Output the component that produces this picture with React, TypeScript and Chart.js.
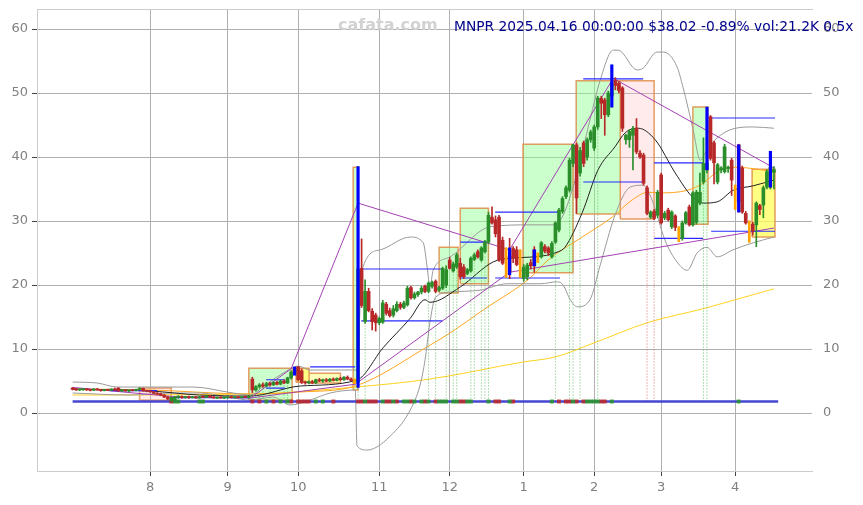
import React, { useEffect, useRef } from 'react';
import { Chart, registerables } from 'chart.js';

Chart.register(...registerables);

// ---- daily candles [open, high, low, close], one array per month ----
const julBars = [
  [3.9, 4.0, 3.6, 3.7], [3.7, 3.85, 3.55, 3.6], [3.6, 3.75, 3.5, 3.65], [3.65, 3.8, 3.55, 3.75],
  [3.75, 3.85, 3.55, 3.6], [3.6, 3.7, 3.45, 3.55], [3.55, 3.8, 3.5, 3.75], [3.75, 3.85, 3.55, 3.6],
  [3.6, 3.7, 3.4, 3.5], [3.5, 3.7, 3.45, 3.65], [3.65, 3.75, 3.5, 3.55], [3.55, 3.8, 3.5, 3.75],
  [3.75, 3.9, 3.55, 3.6], [3.9, 3.95, 3.4, 3.45], [3.45, 3.6, 3.35, 3.5], [3.5, 3.65, 3.4, 3.45],
  [3.45, 3.6, 3.35, 3.55], [3.55, 3.7, 3.45, 3.5], [3.5, 3.75, 3.45, 3.7], [3.7, 3.95, 3.6, 3.85],
  [3.85, 3.9, 3.4, 3.45], [3.45, 3.55, 3.3, 3.4],
];
const augBars = [
  [3.4, 3.5, 3.2, 3.3], [3.3, 3.4, 3.0, 3.1], [3.1, 3.2, 2.9, 2.95], [3.0, 3.1, 2.7, 2.8],
  [2.8, 2.9, 2.4, 2.5], [2.5, 2.6, 2.1, 2.2], [2.0, 2.5, 1.8, 2.4], [2.1, 2.6, 1.9, 2.5],
  [2.5, 2.7, 2.3, 2.6], [2.6, 2.7, 2.3, 2.4], [2.4, 2.6, 2.3, 2.55], [2.55, 2.65, 2.3, 2.4],
  [2.4, 2.6, 2.35, 2.5], [2.5, 2.6, 2.3, 2.35], [2.35, 2.6, 2.3, 2.55], [2.55, 2.7, 2.4, 2.45],
  [2.45, 2.7, 2.4, 2.65], [2.65, 2.75, 2.4, 2.45], [2.45, 2.6, 2.3, 2.35], [2.35, 2.5, 2.25, 2.45],
  [2.45, 2.55, 2.3, 2.35], [2.35, 2.5, 2.25, 2.4],
];
const sepBars = [
  [2.4, 2.55, 2.3, 2.5], [2.5, 2.6, 2.35, 2.4], [2.4, 2.55, 2.3, 2.45], [2.45, 2.6, 2.35, 2.4],
  [2.4, 2.55, 2.3, 2.5], [2.5, 2.65, 2.4, 2.45], [2.45, 2.7, 2.35, 2.6], [5.3, 5.6, 3.2, 3.6],
  [3.6, 4.3, 3.4, 4.1], [4.1, 4.6, 3.9, 4.4], [4.4, 4.7, 4.0, 4.2], [4.2, 4.8, 4.1, 4.6],
  [4.6, 4.8, 4.2, 4.4], [4.4, 4.9, 4.3, 4.8], [4.8, 5.0, 4.4, 4.5], [4.5, 5.1, 4.4, 5.0],
  [5.0, 5.2, 4.6, 4.7], [4.7, 5.6, 4.6, 5.5], [5.5, 6.6, 5.3, 6.4], [6.4, 7.1, 6.2, 6.9],
];
const octBars = [
  [7.2, 7.3, 5.0, 5.2], [6.6, 6.9, 4.6, 4.8], [4.8, 5.0, 4.5, 4.7], [4.7, 5.0, 4.55, 4.9],
  [4.9, 5.1, 4.6, 4.7], [4.7, 5.3, 4.6, 5.2], [5.2, 5.4, 4.9, 5.0], [5.0, 5.3, 4.8, 5.2],
  [5.2, 5.4, 4.9, 5.0], [5.0, 5.4, 4.9, 5.3], [5.3, 5.5, 5.0, 5.1], [5.1, 5.5, 5.0, 5.4],
  [5.4, 5.6, 5.1, 5.2], [5.2, 5.7, 5.1, 5.6], [5.6, 5.8, 5.2, 5.3], [5.3, 5.5, 5.0, 5.1],
  [5.1, 5.3, 4.6, 4.8], [4.8, 38.5, 4.6, 22.5], [22.6, 27.2, 16.5, 16.8], [14.3, 20.8, 14.0, 19.0],
  [19.0, 19.5, 15.8, 16.0], [15.9, 16.3, 13.0, 14.3], [15.3, 15.6, 12.8, 14.1],
];
const novBars = [
  [14.1, 15.0, 13.8, 14.8], [14.2, 17.6, 14.0, 17.2], [17.0, 17.3, 15.3, 15.6], [16.0, 16.4, 15.0, 15.2],
  [15.3, 16.8, 15.0, 16.3], [16.0, 17.4, 15.8, 17.0], [17.0, 17.3, 16.2, 16.5], [16.5, 17.5, 16.3, 17.2],
  [16.9, 19.8, 16.7, 19.5], [19.6, 19.8, 17.8, 18.0], [18.0, 18.9, 17.8, 18.6], [18.5, 19.0, 18.2, 18.9],
  [18.9, 19.8, 18.6, 19.5], [19.8, 20.0, 18.8, 19.0], [19.0, 20.5, 18.8, 20.3], [19.8, 20.6, 19.5, 20.4],
  [20.6, 20.8, 18.8, 19.0], [19.2, 19.8, 19.0, 19.6], [19.5, 22.8, 19.3, 22.6], [20.0, 23.0, 19.6, 22.4],
];
const decBars = [
  [23.9, 24.3, 22.5, 22.6], [22.2, 23.6, 22.0, 23.3], [22.8, 25.0, 22.6, 24.7], [23.4, 24.2, 20.9, 21.3],
  [22.8, 23.2, 21.0, 21.3], [21.8, 22.6, 21.6, 22.4], [22.2, 24.4, 22.0, 24.2], [24.0, 25.0, 23.8, 24.7],
  [25.2, 25.5, 24.2, 24.4], [23.9, 26.0, 23.7, 25.8], [25.2, 27.0, 25.0, 26.7], [26.7, 31.4, 26.5, 30.9],
  [30.6, 32.2, 29.5, 29.7], [30.2, 30.8, 27.5, 28.0], [30.6, 30.9, 23.7, 23.9], [27.0, 27.5, 23.2, 23.4],
  [25.5, 25.8, 21.2, 21.5], [24.5, 27.3, 21.0, 22.0], [25.7, 26.0, 23.5, 24.2], [25.5, 26.0, 23.0, 23.2],
  [24.8, 25.5, 21.2, 21.5],
];
const janBars = [
  [21.0, 23.2, 20.6, 22.8], [21.3, 23.4, 20.8, 23.1], [23.5, 24.0, 22.5, 23.0], [25.5, 26.0, 22.0, 23.0],
  [24.2, 25.0, 23.5, 23.8], [24.4, 26.8, 24.2, 26.6], [26.0, 26.3, 25.0, 25.3], [25.8, 26.0, 24.6, 25.0],
  [24.4, 26.8, 24.2, 26.5], [26.7, 29.9, 26.5, 29.7], [28.6, 32.0, 28.3, 31.7], [31.5, 33.8, 31.2, 33.5],
  [33.8, 35.5, 33.5, 35.2], [34.8, 39.8, 34.5, 39.5], [39.0, 42.0, 38.5, 41.9], [41.9, 42.2, 31.2, 33.6],
  [37.5, 41.5, 37.0, 41.0], [42.2, 42.5, 38.5, 39.0], [40.0, 43.0, 39.5, 42.7], [42.7, 44.2, 42.3, 43.9],
];
const febBars = [
  [41.4, 45.0, 41.0, 44.7], [44.7, 49.5, 44.3, 49.2], [49.2, 49.5, 46.0, 48.4], [48.9, 49.2, 43.4, 46.6],
  [46.6, 50.3, 46.3, 50.0], [49.5, 54.4, 47.8, 51.5], [52.0, 52.4, 50.5, 51.2], [51.5, 51.8, 50.0, 50.4],
  [50.8, 51.0, 44.0, 44.5], [42.7, 43.6, 42.0, 43.4], [42.7, 44.3, 41.5, 44.0], [43.4, 44.8, 38.0, 44.5],
  [44.5, 46.0, 40.5, 40.8], [40.6, 41.0, 39.8, 40.0], [40.3, 40.6, 35.6, 35.9], [35.2, 35.5, 31.0, 31.2],
  [30.6, 31.6, 30.4, 31.4], [31.5, 31.8, 30.2, 30.4], [30.9, 34.8, 30.5, 34.5],
];
const marBars = [
  [37.2, 37.5, 29.5, 29.7], [30.5, 31.5, 30.2, 31.2], [31.7, 32.0, 30.0, 30.2], [29.1, 31.6, 28.8, 31.4],
  [30.8, 31.0, 28.5, 29.0], [28.9, 29.1, 26.8, 27.2], [27.3, 30.0, 27.0, 29.7], [29.7, 31.5, 29.5, 31.3],
  [32.2, 32.5, 29.2, 29.4], [29.4, 34.6, 29.2, 34.4], [29.8, 34.8, 29.5, 34.5], [32.8, 37.5, 32.5, 34.5],
  [36.1, 43.0, 35.8, 39.0], [38.0, 47.8, 37.5, 39.0], [46.3, 46.5, 39.5, 39.8], [42.2, 42.5, 35.8, 39.1],
  [36.1, 39.0, 35.8, 38.8], [38.0, 38.5, 37.5, 38.3], [37.7, 42.0, 37.5, 41.6], [38.2, 38.6, 37.6, 38.4],
  [39.5, 39.8, 34.0, 36.4],
];
const aprBars = [
  [35.3, 35.6, 31.8, 32.0], [41.9, 42.0, 31.4, 33.0], [38.3, 38.6, 31.2, 31.4], [31.2, 31.5, 29.5, 29.7],
  [29.7, 30.0, 26.7, 27.0], [29.5, 29.8, 27.8, 28.5], [29.4, 33.0, 26.0, 32.8], [32.4, 32.6, 31.0, 31.8],
  [32.5, 35.5, 30.5, 35.2], [35.3, 38.0, 35.0, 37.7], [35.3, 40.9, 35.0, 38.4], [37.6, 38.5, 35.0, 38.02],
];

const orangeCandles = [80, 123, 127, 132, 172, 188, 192];
// [bar index, low, high] of the blue volume-spike marks
const blueMarks = [
  [63, 5.9, 7.2], [81, 4.0, 38.5], [124, 21.6, 25.8], [131, 23.0, 25.5],
  [153, 47.8, 54.4], [180, 38.0, 47.8], [189, 31.4, 41.9], [198, 35.3, 40.9],
];

const monthTickIdx = [22, 44, 64, 87, 107, 128, 148, 167, 188];
const monthTickLabels = ['8', '9', '10', '11', '12', '1', '2', '3', '4'];
const priceTicks = [0, 10, 20, 30, 40, 50, 60];

// indicator lines: [bar index, price]
const smaBlack = [
  [0, 3.75], [22, 3.44], [36, 2.81], [50.4, 2.66], [64.6, 4.22], [80.7, 5.16], [88.1, 10.2],
  [95.8, 14.8], [100, 17.7], [101.4, 17.3], [110, 19.7], [119.3, 23.6], [124.1, 24.2],
  [131.2, 24.4], [137.8, 25.2], [139.7, 25.9], [144.6, 31.3], [149.1, 38.0], [153.9, 41.6],
  [156.8, 43.8], [160.5, 44.5], [165.3, 42.7], [171, 37.5], [175.8, 33.8], [178.9, 32.8],
  [182.9, 33.0], [187.4, 34.8], [193.1, 35.5], [199, 36.4],
];
const smaOrange = [
  [0, 3.75], [22, 3.6], [50.4, 2.97], [64.6, 3.28], [80.2, 4.22], [101.4, 10.6], [107.1, 12.5],
  [116.5, 16.1], [129.8, 21.1], [134.9, 23.9], [144.6, 27.5], [153.1, 30.6], [158.8, 33.3],
  [163.3, 34.5], [166.7, 34.4], [174.4, 34.8], [178.9, 35.9], [182.9, 37.7], [187.4, 38.4],
  [191.4, 38.3], [199, 37.7],
];
const smaYellow = [
  [0, 2.81], [50.4, 2.97], [80.2, 4.06], [101.4, 5.31], [127.8, 7.97], [136.9, 8.75],
  [147.7, 10.9], [163, 14.1], [178.9, 16.3], [188, 17.7], [199, 19.4],
];
const bandUpper = [
  [0, 4.84], [7, 4.69], [12.6, 4.06], [28.5, 4.06], [34.2, 4.06], [45.5, 3.13], [50.4, 2.81],
  [54.6, 4.38], [60.3, 6.41], [64, 7.34], [67.4, 6.72], [80.7, 6.72], [82.1, 22.3], [87.3, 25.5],
  [95.8, 27.5], [99.5, 26.6], [100.6, 22.8], [101.4, 19.7], [102.3, 22.3], [107.1, 24.4],
  [118.5, 29.1], [129.8, 29.4], [136.4, 29.4], [138.9, 30.6], [142.6, 36.4], [146.8, 45.8],
  [149.7, 52.0], [153.4, 56.7], [154.8, 56.7], [160.2, 53.6], [161.9, 53.9], [165.8, 56.4],
  [167.6, 56.4], [171.5, 54.1], [173.2, 50.9], [176.1, 44.2], [178.1, 39.5], [180, 41.1],
  [182.9, 43.0], [187.4, 44.4], [193.1, 44.7], [199, 44.5],
];
const bandLower = [
  [0, 3.13], [16.3, 2.81], [28.5, 3.13], [36.2, 3.13], [45.5, 2.34], [50.4, 2.03], [56.9, 2.5],
  [61.7, 1.25], [67.4, 2.03], [73.1, 3.13], [80.2, 3.59], [80.7, -5.16], [83.6, -5.78],
  [91, -3.13], [95.8, 0.47], [98.6, 4.38], [100, 8.28], [101.4, 14.2], [102.9, 18.0],
  [107.1, 18.9], [115.6, 19.2], [123.3, 20.2], [132.7, 20.2], [137.5, 20.5], [139.2, 20.0],
  [141.2, 17.7], [143.2, 16.6], [146.8, 17.7], [149.7, 23.1], [153.9, 30.9], [158.2, 35.3],
  [161.9, 35.6], [164.4, 33.3], [168.1, 27.0], [171.5, 23.6], [174.4, 22.3], [177.2, 25.0],
  [180, 25.9], [182.9, 24.4], [187.4, 25.5], [193.1, 26.6], [199, 27.5],
];
const zigzagA = [[0, 4.0], [28, 2.6], [50.4, 2.34]];
const zigzagB = [[50.4, 2.34], [62, 6.9], [81, 32.8], [124, 25.5], [153.4, 52.3], [199, 38.3]];
const zigzagC = [[50.4, 2.34], [80.2, 4.5], [124, 22.0], [199, 28.9]];

// horizontal level lines: [from index, to index, price]
const levelLines = [
  [10.7, 24, 3.5], [27.7, 50.4, 2.4], [54.9, 60.3, 5.2], [54.9, 60.3, 3.9], [67.4, 80.2, 7.2],
  [81.9, 104.9, 22.5], [81.9, 104.9, 14.4], [110, 117.6, 26.7], [110, 117.6, 21.1],
  [119.9, 138.3, 31.4], [119.9, 138.3, 21.1], [144.9, 161.9, 52.2], [144.9, 161.9, 36.1],
  [165, 178.9, 39.1], [165, 178.9, 27.3], [181.2, 199.3, 46.1], [181.2, 199.3, 28.4],
];
// range boxes: [from index, to index, top, bottom, kind]
const boxes = [
  [19, 28, 3.9, 2.0, 'r'], [50, 62.3, 7.0, 2.0, 'g'], [63.4, 67.1, 7.0, 4.8, 'y'],
  [67.1, 76, 6.2, 4.7, 'ly'], [79.6, 81, 38.4, 3.6, 'g'], [104, 109.4, 25.9, 18.75, 'g'],
  [110, 118, 32.0, 20.2, 'g'], [127.8, 142, 42.0, 21.9, 'g'], [142.9, 155.4, 51.9, 31.1, 'g'],
  [155.4, 165, 51.9, 30.3, 'r'], [176, 180.3, 47.8, 29.5, 'g'], [192.8, 199.3, 38.1, 27.5, 'y'],
];
const volGreenIdx = [29, 30, 36, 37, 55, 59, 61, 69, 71, 83, 88, 91, 94, 95, 97, 99, 101, 104, 105, 106,
  108, 109, 112, 113, 118, 124, 136, 142, 146, 147, 148, 149, 153, 189];
const volRedIdx = [28, 51, 53, 57, 62, 64, 65, 66, 67, 74, 81, 82, 84, 85, 86, 89, 90, 92, 96, 100, 103,
  110, 111, 120, 121, 125, 138, 140, 141, 143, 145, 150, 151];
const dotGreenIdx = [51, 53, 54, 56, 60, 61, 81, 83, 101, 103, 106, 108, 109, 113, 114, 116, 117, 118,
  137, 141, 142, 144, 149, 179, 180];
const dotRedIdx = [163, 165];
const baseLevel = 1.8;
const baseEnd = 200.2;

const GREEN = '#2a8f2a';
const RED = '#b82828';
const ORANGE = '#ffa500';
const BLUE = '#0000ff';

export default function App() {
  const ref = useRef<HTMLCanvasElement>(null);

  useEffect(() => {
    document.body.style.margin = '0';
    Chart.defaults.font.family = '"DejaVu Sans", sans-serif';
    const bars = [...julBars, ...augBars, ...sepBars, ...octBars, ...novBars, ...decBars,
      ...janBars, ...febBars, ...marBars, ...aprBars];
    const isOrange = (i: number) => orangeCandles.includes(i);
    const colorOf = (i: number) => (isOrange(i) ? ORANGE : bars[i][3] >= bars[i][0] ? GREEN : RED);
    const pts = (arr: number[][]) => arr.map(([x, y]) => ({ x, y }));
    const line = (data: any[], color: string, width: number, order: number, extra: any = {}) => ({
      type: 'line', data, borderColor: color, borderWidth: width, pointRadius: 0, fill: false,
      order, spanGaps: false, ...extra,
    });

    const datasets: any[] = [];

    const fills: Record<string, string> = {
      g: 'rgba(140,255,140,0.45)', r: 'rgba(255,190,190,0.3)', y: 'rgba(255,255,90,0.75)', ly: 'rgba(255,255,120,0.5)',
    };
    boxes.forEach((b: any) => {
      datasets.push(line([{ x: b[0], y: b[2] }, { x: b[1], y: b[2] }], 'rgba(0,0,0,0)', 1, 100,
        { fill: { value: b[3] }, backgroundColor: fills[b[4]] }));
    });
    const borderPts: any[] = [];
    boxes.forEach((b: any) => {
      borderPts.push({ x: b[0], y: b[3] }, { x: b[0], y: b[2] }, { x: b[1], y: b[2] }, { x: b[1], y: b[3] },
        { x: b[0], y: b[3] }, { x: b[0], y: null });
    });
    datasets.push(line(borderPts, 'rgba(225,140,70,0.85)', 1.5, 99));

    datasets.push(line(pts(smaYellow), '#ffd21f', 1, 60, { cubicInterpolationMode: 'monotone' }));
    datasets.push(line(pts(smaOrange), '#ffa520', 1, 59, { cubicInterpolationMode: 'monotone' }));
    datasets.push(line(pts(bandUpper), '#9a9a9a', 1, 58, { cubicInterpolationMode: 'monotone' }));
    datasets.push(line(pts(bandLower), '#9a9a9a', 1, 58, { cubicInterpolationMode: 'monotone' }));
    datasets.push(line(pts(smaBlack), '#222222', 1, 57, { cubicInterpolationMode: 'monotone' }));

    [zigzagA, zigzagB, zigzagC].forEach((z) => datasets.push(line(pts(z), '#a440b4', 1, 50)));

    const lvl: any[] = [];
    levelLines.forEach(([a, b, v]) => lvl.push({ x: a, y: v }, { x: b, y: v }, { x: b, y: null }));
    datasets.push(line(lvl, '#2b2bff', 1.2, 45));

    const dots = (idxs: number[]) => {
      const out: any[] = [];
      idxs.forEach((i) => out.push({ x: i, y: baseLevel }, { x: i, y: bars[i][2] }, { x: i, y: null }));
      return out;
    };
    datasets.push(line(dots(dotGreenIdx), 'rgba(60,170,60,0.75)', 1, 40, { borderDash: [1, 2] }));
    datasets.push(line(dots(dotRedIdx), 'rgba(210,60,60,0.75)', 1, 40, { borderDash: [1, 2] }));

    datasets.push(line([{ x: 0, y: baseLevel }, { x: baseEnd, y: baseLevel }], 'rgb(70,70,210)', 2.5, 30));

    datasets.push({
      type: 'line', showLine: false, order: 25, pointStyle: 'rect', pointRadius: 2.8, pointBorderWidth: 0,
      data: volGreenIdx.map((i) => ({ x: i, y: baseLevel })), pointBackgroundColor: 'rgba(40,150,40,0.85)',
    });
    datasets.push({
      type: 'line', showLine: false, order: 25, pointStyle: 'rect', pointRadius: 2.8, pointBorderWidth: 0,
      data: volRedIdx.map((i) => ({ x: i, y: baseLevel })), pointBackgroundColor: 'rgba(190,40,40,0.85)',
    });

    datasets.push({
      type: 'bar', order: 12, grouped: false, barThickness: 1, minBarLength: 1,
      data: bars.map((b, i) => ({ x: i, y: [b[2], b[1]] })),
      backgroundColor: bars.map((_, i) => colorOf(i)),
    });
    const normalIdx = bars.map((_, i) => i).filter((i) => !isOrange(i));
    datasets.push({
      type: 'bar', order: 11, grouped: false, barThickness: 3, minBarLength: 1,
      data: normalIdx.map((i) => ({ x: i, y: [Math.min(bars[i][0], bars[i][3]), Math.max(bars[i][0], bars[i][3])] })),
      backgroundColor: normalIdx.map((i) => colorOf(i)),
    });
    datasets.push({
      type: 'bar', order: 11, grouped: false, barThickness: 2, minBarLength: 1,
      data: orangeCandles.map((i) => ({ x: i, y: [bars[i][2], bars[i][1]] })),
      backgroundColor: ORANGE,
    });
    datasets.push({
      type: 'bar', order: 5, grouped: false, barThickness: 2.5,
      data: blueMarks.map(([i, lo, hi]) => ({ x: i, y: [lo, hi] })),
      backgroundColor: BLUE,
    });

    const yMin = -9.06;
    const yMax = 63.13;
    const xMin = -10.1;
    const xMax = 209.8;
    const tickFont = { size: 13 };
    const noPadV = (s: any) => { s.paddingTop = 0; s.paddingBottom = 0; };
    const chart = new Chart(ref.current!, {
      type: 'line',
      data: { datasets },
      options: {
        animation: false,
        responsive: true,
        maintainAspectRatio: false,
        devicePixelRatio: 1,
        events: [],
        layout: { padding: { top: 9, left: 0, right: 0, bottom: 0 } },
        plugins: { legend: { display: false }, tooltip: { enabled: false } },
        scales: {
          x: {
            type: 'linear', min: xMin, max: xMax, offset: false,
            afterBuildTicks: (s: any) => { s.ticks = monthTickIdx.map((v) => ({ value: v })); },
            afterFit: (s: any) => { s.height = 34; s.paddingLeft = 0; s.paddingRight = 0; },
            ticks: {
              autoSkip: false, maxRotation: 0, color: '#808080', font: tickFont, padding: 4,
              callback: (_v: any, i: number) => monthTickLabels[i],
            },
            grid: { color: '#b0b0b0', tickColor: '#444', tickLength: 5, offset: false },
            border: { color: '#cccccc' },
          },
          x2: {
            type: 'linear', position: 'top', min: xMin, max: xMax,
            afterFit: (s: any) => { s.height = 0; s.paddingLeft = 0; s.paddingRight = 0; },
            ticks: { display: false },
            grid: { display: false, drawTicks: false },
            border: { display: true, color: '#cccccc', dash: [2, 2] },
          },
          y: {
            position: 'left', min: yMin, max: yMax,
            afterBuildTicks: (s: any) => { s.ticks = priceTicks.map((v) => ({ value: v })); },
            afterFit: (s: any) => { s.width = 37; noPadV(s); },
            ticks: { color: '#808080', font: tickFont, padding: 4 },
            grid: { color: '#b0b0b0', tickColor: '#444', tickLength: 5 },
            border: { color: '#cccccc' },
          },
          y2: {
            position: 'right', min: yMin, max: yMax,
            afterBuildTicks: (s: any) => { s.ticks = priceTicks.map((v) => ({ value: v })); },
            afterFit: (s: any) => { s.width = 51; noPadV(s); },
            ticks: { color: '#808080', font: tickFont, padding: 11 },
            grid: { display: false, drawTicks: false },
            border: { display: false },
          },
        },
      } as any,
    } as any);
    return () => chart.destroy();
  }, []);

  return (
    <div style={{ position: 'fixed', left: 0, top: 0, width: 863, height: 505, background: '#fff' }}>
      <canvas ref={ref} />
      <div style={{ position: 'absolute', left: 338, top: 15, font: 'bold 16px "DejaVu Sans"', color: '#d2d2d2', whiteSpace: 'nowrap' }}>
        cafata.com
      </div>
      <div style={{ position: 'absolute', left: 454, top: 18, font: '13.8px "DejaVu Sans"', color: '#00008b', whiteSpace: 'nowrap' }}>
        MNPR 2025.04.16 00:00:00 $38.02 -0.89% vol:21.2K 0.5x
      </div>
    </div>
  );
}
